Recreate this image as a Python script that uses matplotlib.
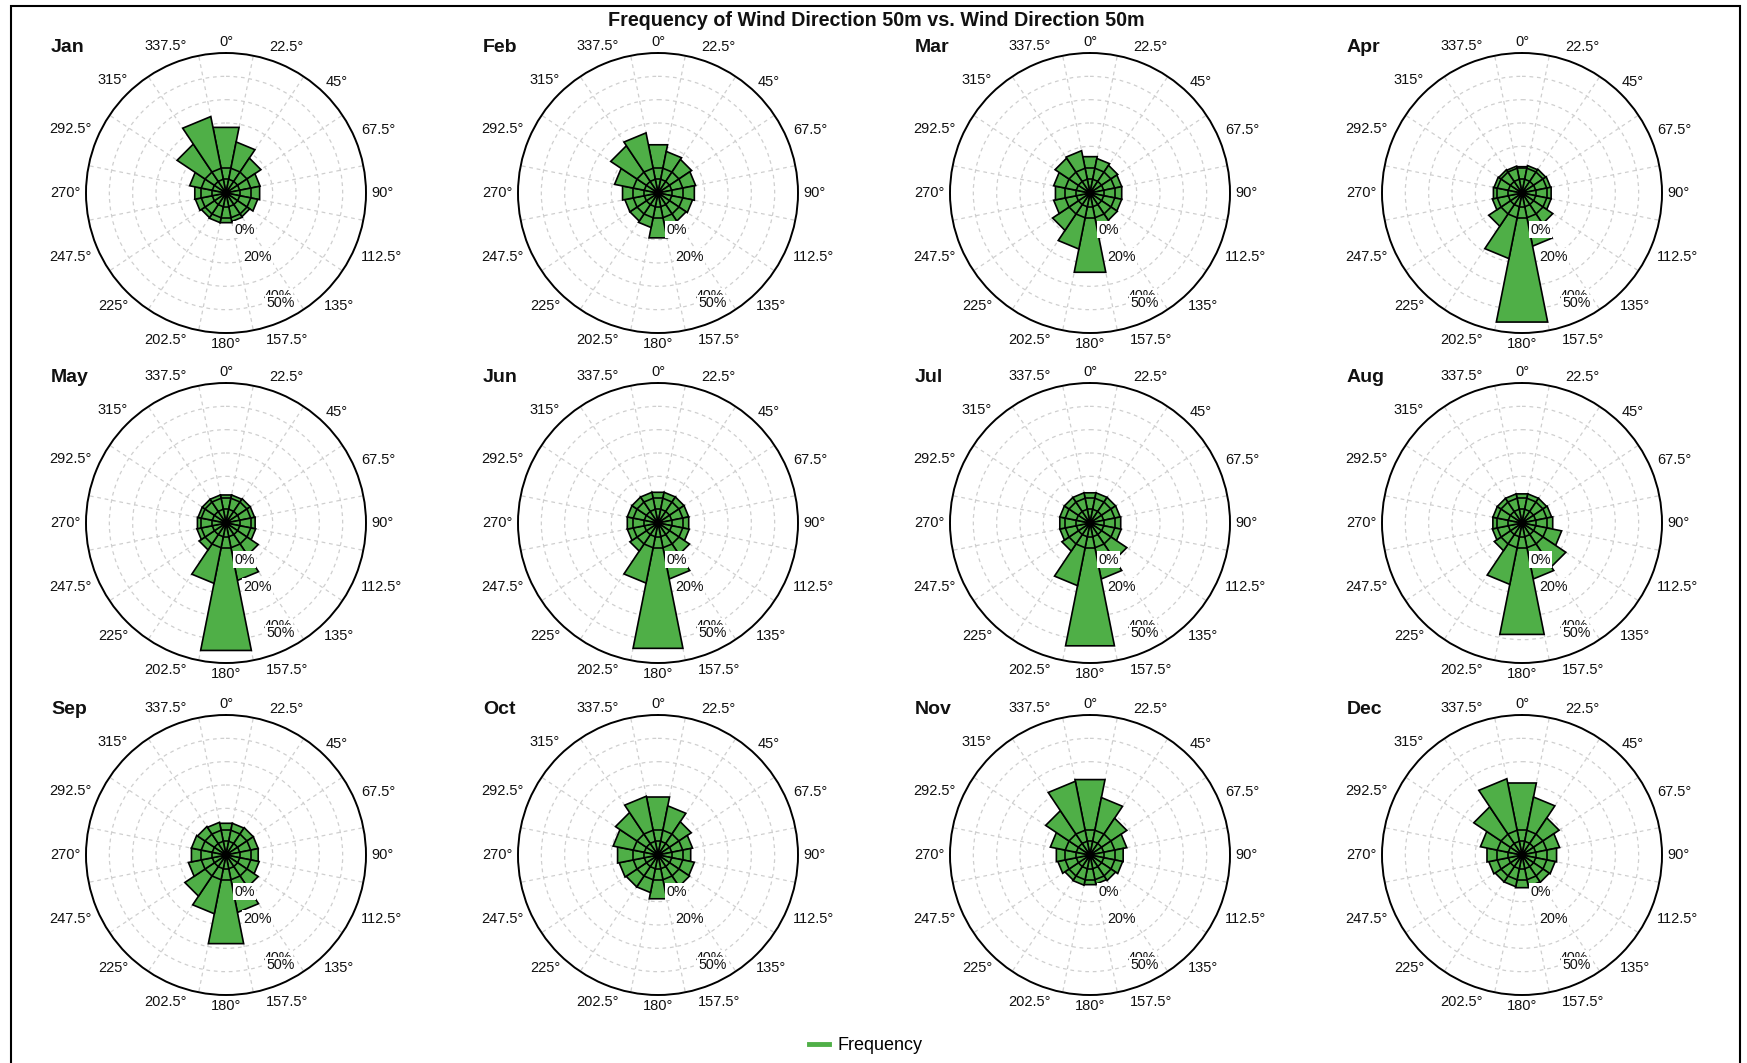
import numpy as np
import matplotlib
matplotlib.use("Agg")
import matplotlib.pyplot as plt
from matplotlib.lines import Line2D
from matplotlib.patches import Rectangle

plt.rcParams["font.family"] = ["Liberation Sans", "DejaVu Sans"]

# ---- data: frequency (%) of wind direction per month, 16 sectors from 0° clockwise
directions = np.arange(16) * 22.5
months = ["Jan", "Feb", "Mar", "Apr", "May", "Jun",
          "Jul", "Aug", "Sep", "Oct", "Nov", "Dec"]

jan = [13.7, 8.3, 5.4, 3.7, 3.6, 3.2, 2.5, 2.6, 2.8, 2.8, 2.7, 3.0, 3.1, 4.2, 10.6, 18.6]
feb = [7.4, 5.5, 5.0, 4.5, 4.2, 3.8, 3.5, 3.5, 6.4, 3.8, 3.5, 3.5, 4.0, 6.0, 9.9, 11.5]
mar = [4.2, 3.8, 3.4, 3.2, 3.2, 3.2, 3.3, 3.6, 20.0, 10.0, 6.2, 4.2, 3.8, 4.2, 5.4, 5.7]
apr = [2.2, 2.4, 2.5, 2.6, 2.7, 2.7, 4.2, 9.0, 53.0, 13.7, 4.9, 2.8, 2.6, 2.5, 2.4, 2.3]
may = [2.5, 2.5, 2.6, 2.6, 2.7, 2.8, 4.6, 10.5, 51.7, 11.6, 3.2, 2.7, 2.6, 2.5, 2.5, 2.5]
jun = [3.0, 3.0, 3.0, 3.0, 3.0, 3.1, 4.4, 10.0, 50.0, 11.5, 3.5, 3.0, 3.0, 3.0, 3.0, 3.0]
jul = [2.9, 2.9, 2.9, 2.9, 3.0, 3.1, 6.0, 10.0, 48.0, 12.5, 3.5, 2.9, 2.9, 2.9, 2.9, 2.9]
aug = [2.7, 2.7, 2.7, 2.8, 3.0, 5.0, 8.5, 10.0, 39.5, 12.0, 3.4, 2.8, 2.7, 2.7, 2.7, 2.7]
sep = [3.2, 3.2, 3.3, 3.3, 3.3, 3.5, 4.6, 10.5, 25.0, 11.0, 7.5, 4.5, 3.8, 3.8, 3.6, 3.4]
oct_ = [10.7, 7.7, 4.9, 3.8, 3.4, 4.2, 4.4, 4.9, 6.1, 4.5, 4.5, 4.8, 5.2, 6.4, 8.0, 11.0]
nov = [18.1, 10.5, 6.0, 4.3, 3.5, 3.4, 2.9, 2.7, 2.8, 2.9, 2.8, 3.3, 3.6, 5.0, 8.7, 17.3]
dec = [16.5, 10.7, 6.1, 4.5, 3.8, 3.5, 3.3, 3.2, 3.4, 3.2, 3.2, 3.5, 3.9, 5.5, 10.3, 18.5]
frequencies = [jan, feb, mar, apr, may, jun, jul, aug, sep, oct_, nov, dec]

radial_labels = ["0%", "20%", "40%", "50%"]
R_MAX = 60.0                 # radial axis maximum (%)
RING_LEVELS = [0.6, 1.95]    # inner ring outlines drawn inside the bars

# ---- layout (pixels)
W, H = 1747, 1063
R_PX = 140
col_x = [226, 658, 1090, 1522]
row_y = [193, 523, 855]

GREEN = "#4FAF47"
GRID = "#cfcfcf"
DASH = (0, (3, 3))

fig = plt.figure(figsize=(W / 100, H / 100), dpi=100)
fig.patch.set_facecolor("white")


def sqrt_fwd(x):
    return np.sqrt(np.clip(x, 0, None))


def sqrt_inv(x):
    return np.square(x)


half = np.deg2rad(11.25)
label_frac = {"0%": 0.293, "20%": 0.507, "40%": 0.825, "50%": 0.88}
lab_bearing = np.deg2rad(153.5)

for i, (name, vals) in enumerate(zip(months, frequencies)):
    cx = col_x[i % 4]
    cy = row_y[i // 4]
    ax = fig.add_axes([(cx - R_PX) / W, 1 - (cy + R_PX) / H, 2 * R_PX / W, 2 * R_PX / H],
                      projection="polar")
    ax.set_theta_zero_location("N")
    ax.set_theta_direction(-1)
    ax.set_rscale("function", functions=(sqrt_fwd, sqrt_inv))

    # wind-rose sectors
    for d, v in zip(directions, vals):
        t = np.deg2rad(d)
        ax.fill([t, t - half, t + half], [0, v, v], facecolor=GREEN,
                edgecolor="black", linewidth=1.2, zorder=3)
        for lvl in RING_LEVELS:
            if v > lvl:
                ax.plot([t - half, t + half], [lvl, lvl], color="black",
                        linewidth=1.2, zorder=4)

    ax.set_ylim(0, R_MAX)
    ax.set_yticks(R_MAX * (np.arange(1, 6) / 6.0) ** 2)
    ax.set_yticklabels([])
    ax.set_xticks(np.deg2rad(directions + 11.25))
    ax.set_xticklabels([])
    ax.tick_params(length=0)
    ax.grid(True, color=GRID, linestyle=DASH, linewidth=0.9)
    ax.set_axisbelow(True)
    ax.spines["polar"].set_color("black")
    ax.spines["polar"].set_linewidth(1.4)

    # compass labels around the rim
    for d in directions:
        txt = f"{d:g}°"
        th = np.deg2rad(d)
        w = 7.2 * len(txt)
        rc = 146 + 0.5 * (abs(np.sin(th)) * w + abs(np.cos(th)) * 10)
        f = rc / R_PX
        ax.text(0.5 + 0.5 * f * np.sin(th), 0.5 + 0.5 * f * np.cos(th), txt,
                transform=ax.transAxes, ha="center", va="center",
                fontsize=10.5, color="#111111", clip_on=False)

    # radial scale labels
    for k, lab in enumerate(radial_labels):
        f = label_frac[lab]
        ax.text(0.5 + 0.5 * f * np.sin(lab_bearing), 0.5 + 0.5 * f * np.cos(lab_bearing), lab,
                transform=ax.transAxes, ha="center", va="center", fontsize=10.3,
                color="#111111", zorder=10 + k, clip_on=False,
                bbox=dict(facecolor="white", edgecolor="none", pad=1.0))

    fig.text((cx - 175) / W, 1 - (cy - 145) / H, name, ha="left", va="center",
             fontsize=14, fontweight="bold", color="#111111")

fig.text(876 / W, 1 - 21 / H, "Frequency of Wind Direction 50m vs. Wind Direction 50m",
         ha="center", va="center", fontsize=14.2, fontweight="bold", color="#111111")

fig.legend(handles=[Line2D([], [], color=GREEN, linewidth=3.5)], labels=["Frequency"],
           loc="center left", bbox_to_anchor=(809 / W, 1 - 1046 / H), frameon=False,
           fontsize=13, handlelength=1.1, handletextpad=0.5, borderpad=0, borderaxespad=0)

fig.add_artist(Rectangle((11 / W, -0.01), (1740 - 11) / W, 1.01 - 6 / H,
                         transform=fig.transFigure, fill=False, edgecolor="black",
                         linewidth=1.5))

fig.savefig("out.png", dpi=100, facecolor="white")
